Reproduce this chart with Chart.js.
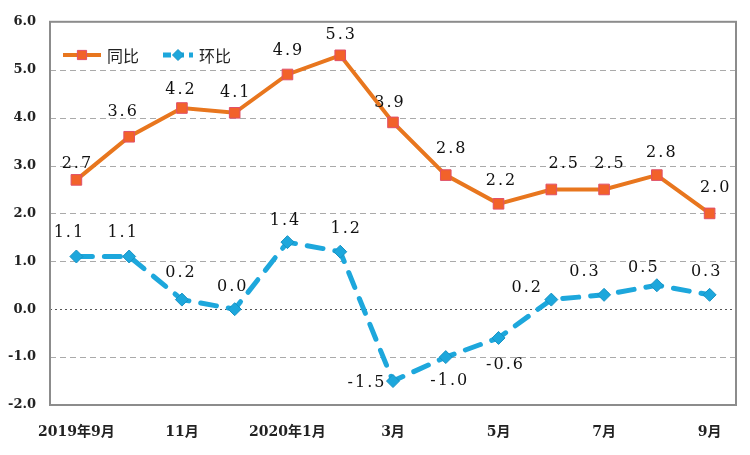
<!DOCTYPE html>
<html>
<head>
<meta charset="utf-8">
<script src="https://cdn.jsdelivr.net/npm/chart.js@4"></script>
<style>
  html, body { margin: 0; padding: 0; background: #fff; }
  #wrap { width: 750px; height: 455px; }
</style>
</head>
<body>
<div id="wrap"><canvas id="cpiChart" width="750" height="455"></canvas></div>
<script>
// data
const months = ['2019年9月', '10月', '11月', '12月', '2020年1月', '2月', '3月', '4月', '5月', '6月', '7月', '8月', '9月'];
const yoy = [2.7, 3.6, 4.2, 4.1, 4.9, 5.3, 3.9, 2.8, 2.2, 2.5, 2.5, 2.8, 2.0];
const mom = [1.1, 1.1, 0.2, 0.0, 1.4, 1.2, -1.5, -1.0, -0.6, 0.2, 0.3, 0.5, 0.3];
const yTicks = [-2, -1, 0, 1, 2, 3, 4, 5, 6];

// label offsets from each point (pixels)
const yoyLabelPos = [[0,-16],[-7,-25],[-2,-18],[0,-20],[0,-24],[0,-20],[-4,-20],[5,-26],[2,-23],[12,-26],[5,-26],[4,-22],[5,-26]];
const momLabelPos = [[-8,-24],[-7,-24],[-2,-27],[-3,-22],[-3,-21],[5,-23],[-27,2],[3,24],[6,27],[-25,-12],[-20,-23],[-14,-17],[-4,-23]];

const ORANGE = '#E8761E';
const BLUE = '#1DA7DC';
const numFont = "'DejaVu Serif', 'Noto Sans CJK SC', serif";

const frameAndGrid = {
    id: 'frameAndGrid',
    beforeDatasetsDraw(chart) {
        const ctx = chart.ctx;
        const a = chart.chartArea;
        const y = chart.scales.y;
        ctx.save();
        ctx.lineWidth = 1;
        yTicks.forEach(v => {
            if (v === -2 || v === 6) return;
            const py = Math.round(y.getPixelForValue(v)) + 0.5;
            ctx.beginPath();
            if (v === 0) {
                ctx.setLineDash([2, 3]);
                ctx.strokeStyle = '#555';
            } else {
                ctx.setLineDash([6, 4]);
                ctx.strokeStyle = '#aaa';
            }
            ctx.moveTo(a.left, py);
            ctx.lineTo(a.right, py);
            ctx.stroke();
        });
        ctx.setLineDash([]);
        ctx.strokeStyle = '#8c8c8c';
        ctx.lineWidth = 2;
        ctx.strokeRect(a.left, a.top, a.right - a.left, a.bottom - a.top);
        ctx.restore();
    }
};

const pointLabels = {
    id: 'pointLabels',
    afterDatasetsDraw(chart) {
        const ctx = chart.ctx;
        const offsets = [yoyLabelPos, momLabelPos];
        ctx.save();
        ctx.font = '16px ' + numFont;
        ctx.fillStyle = '#111';
        ctx.textAlign = 'center';
        ctx.textBaseline = 'middle';
        if ('letterSpacing' in ctx) ctx.letterSpacing = '2px';
        chart.data.datasets.forEach((ds, di) => {
            chart.getDatasetMeta(di).data.forEach((pt, i) => {
                const off = offsets[di][i];
                ctx.fillText(ds.data[i].toFixed(1), pt.x + off[0] + 1, pt.y + off[1]);
            });
        });
        ctx.restore();
    }
};

const innerLegend = {
    id: 'innerLegend',
    afterDraw(chart) {
        const ctx = chart.ctx;
        const items = [
            { x: 63, w: 38, color: ORANGE, dash: [], text: '同比', ds: chart.data.datasets[0] },
            { x: 163, w: 30, color: BLUE, dash: [8, 5], text: '环比', ds: chart.data.datasets[1] }
        ];
        const ly = 55;
        ctx.save();
        items.forEach(it => {
            ctx.beginPath();
            ctx.setLineDash(it.dash);
            ctx.strokeStyle = it.color;
            ctx.lineWidth = it.ds.borderWidth;
            ctx.moveTo(it.x, ly);
            ctx.lineTo(it.x + it.w, ly);
            ctx.stroke();
            ctx.setLineDash([]);
            ctx.lineWidth = 1;
            ctx.fillStyle = it.ds.pointBackgroundColor;
            ctx.strokeStyle = it.ds.pointBorderColor;
            Chart.helpers.drawPoint(ctx, {
                pointStyle: it.ds.pointStyle,
                radius: it.ds.pointRadius - 1,
                borderWidth: 1
            }, it.x + it.w / 2, ly);
            ctx.fillStyle = '#222';
            ctx.font = "16px 'Noto Sans CJK SC', sans-serif";
            ctx.textBaseline = 'middle';
            ctx.textAlign = 'left';
            ctx.fillText(it.text, it.x + it.w + 6, ly + 1);
        });
        ctx.restore();
    }
};

const ctx = document.getElementById('cpiChart').getContext('2d');
const cpiChart = new Chart(ctx, {
    type: 'line',
    data: {
        labels: months,
        datasets: [
            {
                label: '同比',
                data: yoy,
                borderColor: ORANGE,
                borderWidth: 4,
                pointStyle: 'rect',
                pointRadius: 7.5,
                pointBorderWidth: 1,
                pointBackgroundColor: '#F2622A',
                pointBorderColor: '#E0506A',
                tension: 0,
                fill: false
            },
            {
                label: '环比',
                data: mom,
                borderColor: BLUE,
                borderWidth: 5,
                borderDash: [16, 12],
                borderCapStyle: 'round',
                pointStyle: 'rectRot',
                pointRadius: 6.5,
                pointBorderWidth: 1,
                pointBackgroundColor: BLUE,
                pointBorderColor: '#1893C4',
                tension: 0,
                fill: false
            }
        ]
    },
    options: {
        responsive: false,
        animation: false,
        layout: { padding: { top: 19, right: 14, left: 0, bottom: 0 } },
        plugins: {
            legend: { display: false },
            tooltip: { enabled: false }
        },
        scales: {
            x: {
                offset: true,
                grid: { display: false, drawTicks: false },
                border: { display: false },
                afterFit: scale => { scale.height = 50; },
                ticks: {
                    autoSkip: false,
                    maxRotation: 0,
                    padding: 19,
                    color: '#222',
                    font: { family: numFont, size: 14, weight: 'bold' },
                    callback: function (value, index) {
                        return index % 2 === 0 ? months[index] : '';
                    }
                }
            },
            y: {
                min: -2,
                max: 6,
                grid: { display: false, drawTicks: false },
                border: { display: false },
                afterFit: scale => { scale.width = 50; },
                afterBuildTicks: scale => { scale.ticks = yTicks.map(v => ({ value: v })); },
                ticks: {
                    padding: 14,
                    color: '#222',
                    font: { family: numFont, size: 13, weight: 'bold' },
                    callback: v => v.toFixed(1)
                }
            }
        }
    },
    plugins: [frameAndGrid, pointLabels, innerLegend]
});
</script>
</body>
</html>
